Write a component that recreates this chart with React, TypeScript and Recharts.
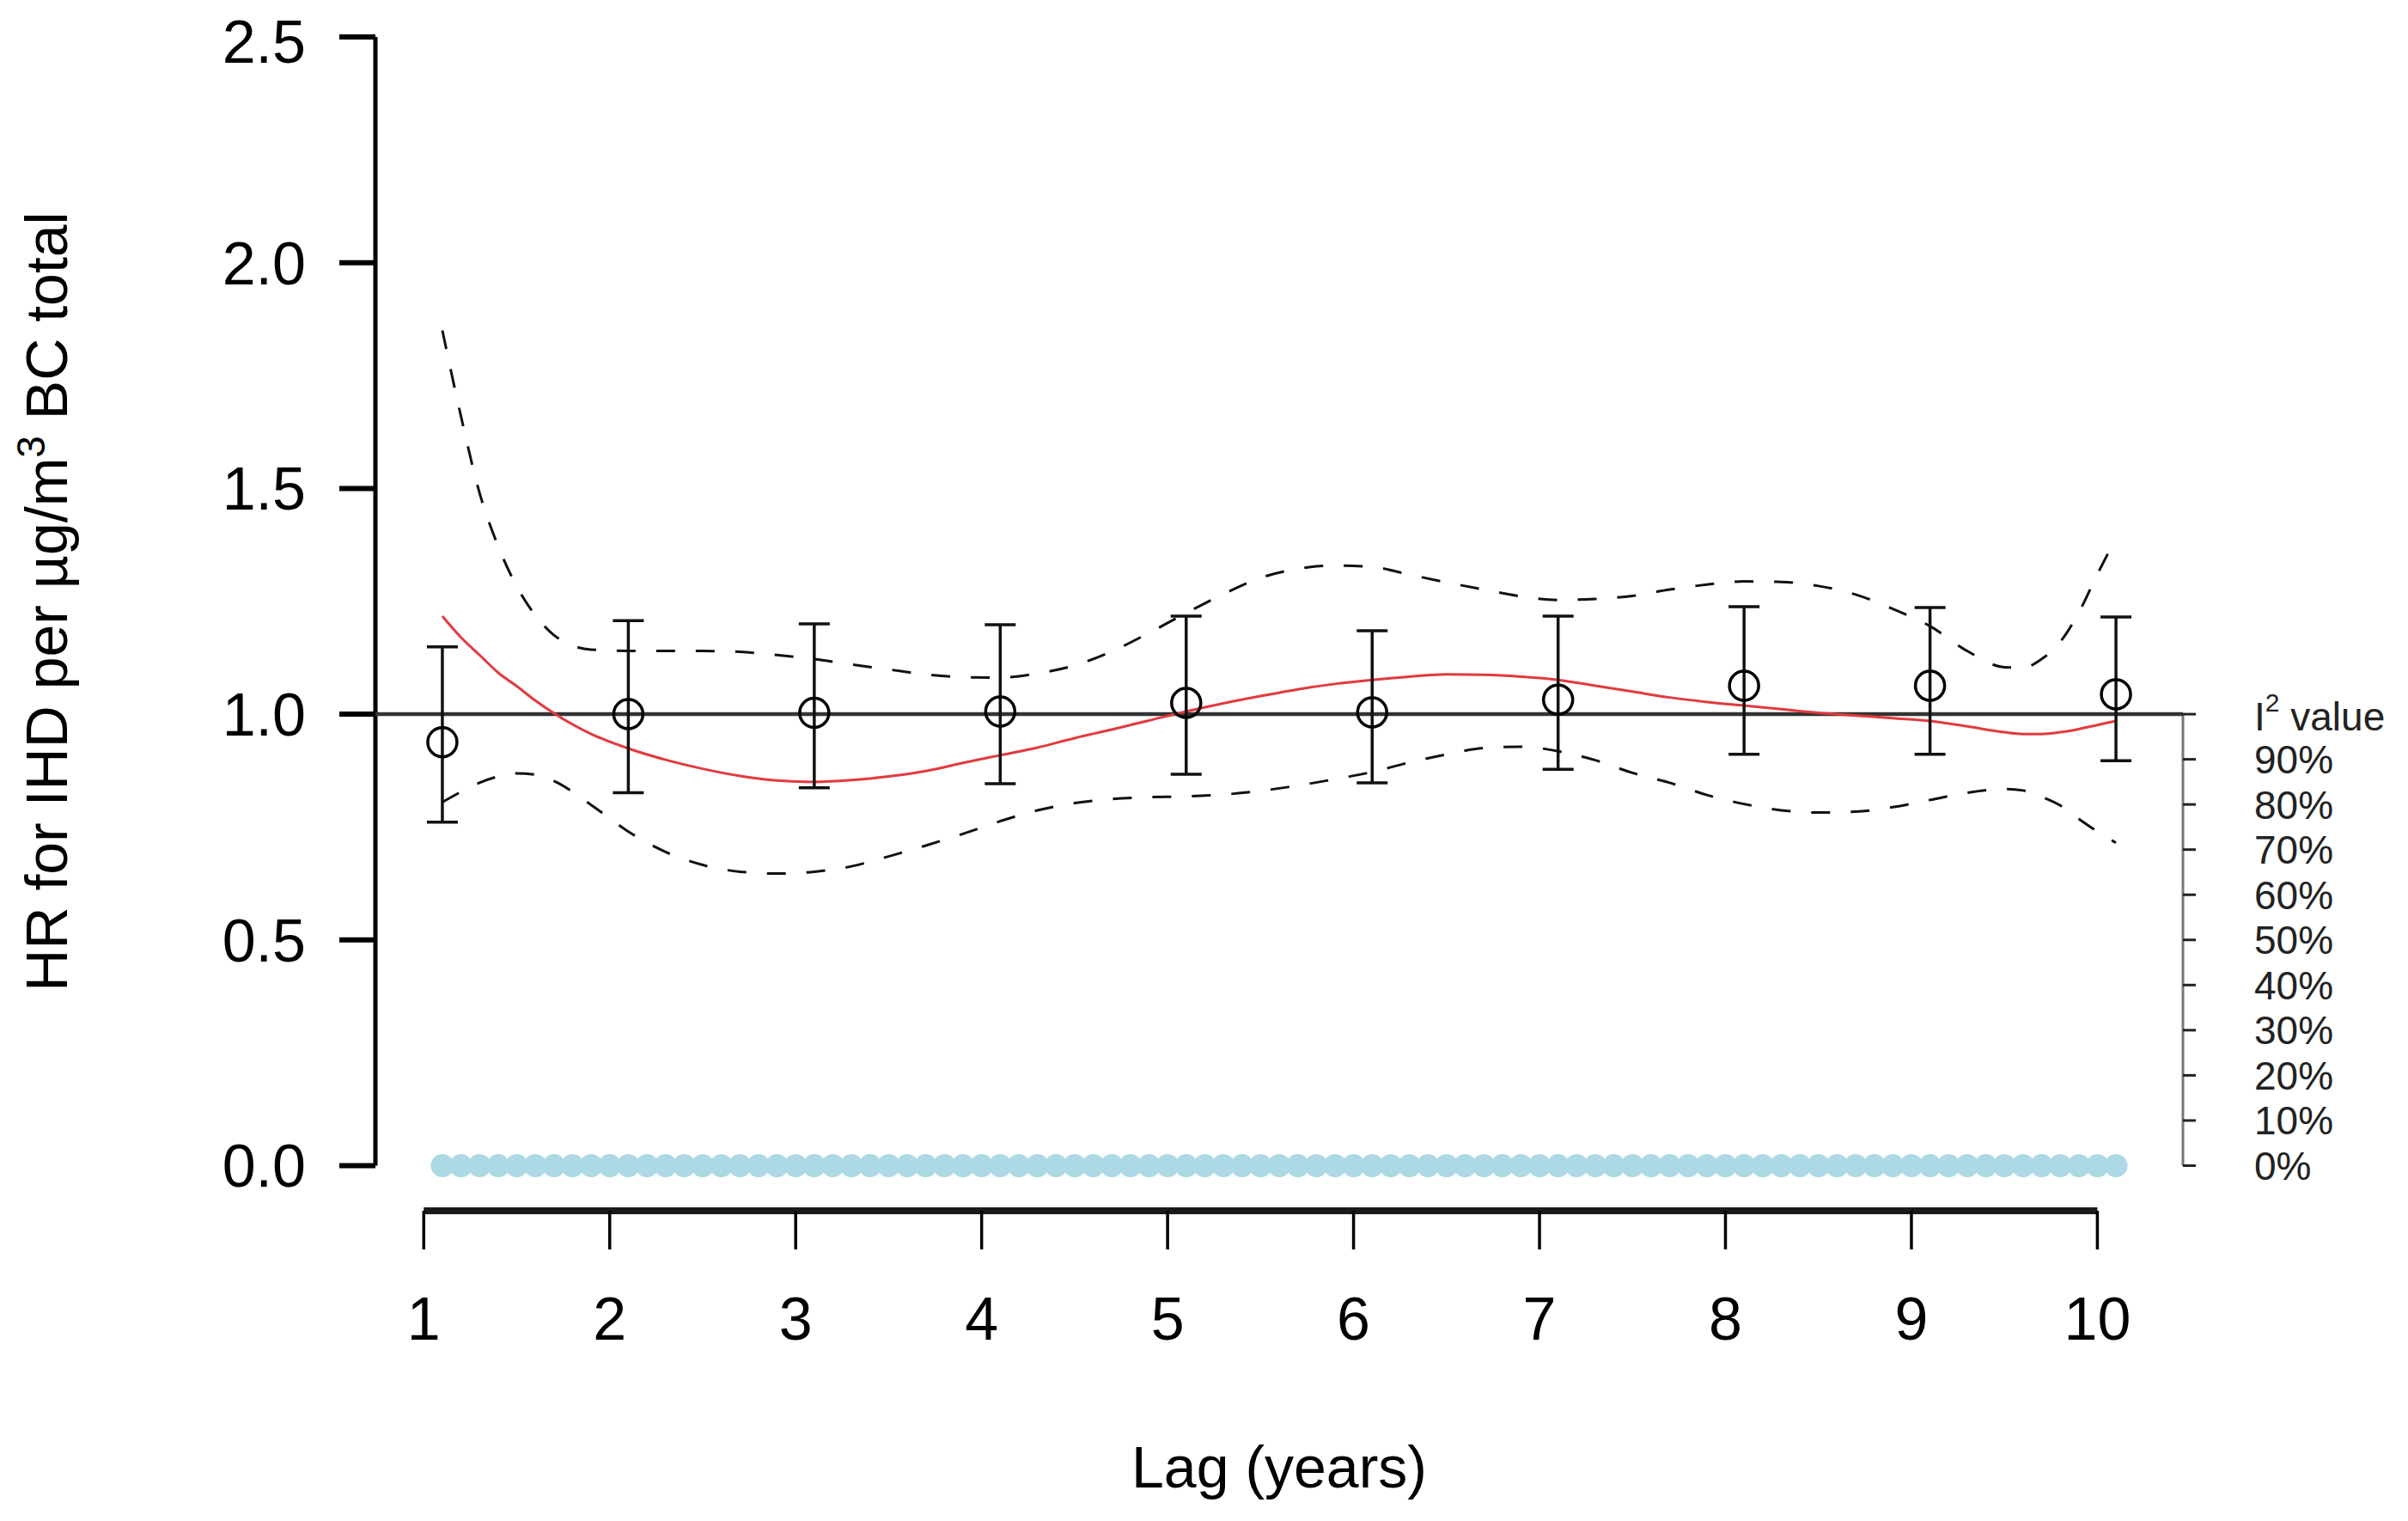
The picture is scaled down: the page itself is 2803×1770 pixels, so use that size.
import React from 'react';
import { ComposedChart, Line, Scatter, ErrorBar, XAxis, YAxis, ReferenceLine } from 'recharts';

// point estimates per lag (pooled HR with 95% CI)
const pointLags = [1.1, 2.1, 3.1, 4.1, 5.1, 6.1, 7.1, 8.1, 9.1, 10.1];
const hrEstimate = [0.938, 1.0, 1.003, 1.006, 1.025, 1.004, 1.032, 1.063, 1.063, 1.044];
const hrLower = [0.761, 0.826, 0.837, 0.846, 0.867, 0.848, 0.878, 0.911, 0.911, 0.897];
const hrUpper = [1.149, 1.207, 1.2, 1.198, 1.217, 1.185, 1.217, 1.238, 1.236, 1.215];

// smooth fit and its confidence band
const curveLags = [
  1.1, 1.2, 1.3, 1.4, 1.5, 1.6, 1.7, 1.9, 2.1, 2.3, 2.5, 2.7, 2.9, 3.1, 3.3, 3.5, 3.7, 3.9,
  4.1, 4.3, 4.5, 4.7, 4.9, 5.1, 5.3, 5.5, 5.7, 5.9, 6.1, 6.3, 6.5, 6.7, 6.9, 7.1, 7.3, 7.5,
  7.7, 7.9, 8.1, 8.3, 8.5, 8.7, 8.9, 9.1, 9.3, 9.5, 9.6, 9.7, 9.8, 9.9, 10.0, 10.1,
];
const fitCurve = [
  1.217, 1.17, 1.131, 1.092, 1.062, 1.03, 1.002, 0.956, 0.924, 0.899, 0.879, 0.863, 0.853, 0.85, 0.854, 0.862, 0.874, 0.892,
  0.909, 0.926, 0.947, 0.966, 0.986, 1.006, 1.024, 1.04, 1.055, 1.067, 1.076, 1.083, 1.088, 1.087, 1.083, 1.076, 1.063, 1.05,
  1.037, 1.027, 1.019, 1.011, 1.003, 0.997, 0.991, 0.985, 0.973, 0.96, 0.956, 0.956, 0.96, 0.967, 0.976, 0.985,
];
const upperCurve = [
  1.85, 1.66, 1.49, 1.372, 1.283, 1.219, 1.175, 1.143, 1.14, 1.14, 1.14, 1.138, 1.131, 1.122, 1.11, 1.099, 1.088, 1.082,
  1.081, 1.09, 1.108, 1.139, 1.18, 1.224, 1.266, 1.302, 1.322, 1.329, 1.326, 1.309, 1.292, 1.276, 1.261, 1.253, 1.255, 1.262,
  1.276, 1.287, 1.294, 1.293, 1.284, 1.265, 1.233, 1.195, 1.14, 1.104, 1.103, 1.122, 1.16, 1.225, 1.31, 1.39,
];
const lowerCurve = [
  0.805, 0.828, 0.848, 0.862, 0.869, 0.866, 0.852, 0.799, 0.74, 0.695, 0.666, 0.651, 0.647, 0.651, 0.663, 0.685, 0.709, 0.735,
  0.763, 0.787, 0.803, 0.812, 0.816, 0.818, 0.822, 0.83, 0.842, 0.856, 0.872, 0.893, 0.911, 0.925, 0.928, 0.918, 0.898, 0.87,
  0.848, 0.821, 0.801, 0.787, 0.782, 0.784, 0.794, 0.81, 0.826, 0.834, 0.831, 0.817, 0.798, 0.768, 0.74, 0.715,
];

// heterogeneity (I^2, %) along the lag grid
const i2Lags = [
  1.1, 1.2, 1.3, 1.4, 1.5, 1.6, 1.7, 1.8, 1.9, 2.0,
  2.1, 2.2, 2.3, 2.4, 2.5, 2.6, 2.7, 2.8, 2.9, 3.0,
  3.1, 3.2, 3.3, 3.4, 3.5, 3.6, 3.7, 3.8, 3.9, 4.0,
  4.1, 4.2, 4.3, 4.4, 4.5, 4.6, 4.7, 4.8, 4.9, 5.0,
  5.1, 5.2, 5.3, 5.4, 5.5, 5.6, 5.7, 5.8, 5.9, 6.0,
  6.1, 6.2, 6.3, 6.4, 6.5, 6.6, 6.7, 6.8, 6.9, 7.0,
  7.1, 7.2, 7.3, 7.4, 7.5, 7.6, 7.7, 7.8, 7.9, 8.0,
  8.1, 8.2, 8.3, 8.4, 8.5, 8.6, 8.7, 8.8, 8.9, 9.0,
  9.1, 9.2, 9.3, 9.4, 9.5, 9.6, 9.7, 9.8, 9.9, 10.0,
  10.1,
];
const i2Values = [
  0, 0, 0, 0, 0, 0, 0, 0, 0, 0,
  0, 0, 0, 0, 0, 0, 0, 0, 0, 0,
  0, 0, 0, 0, 0, 0, 0, 0, 0, 0,
  0, 0, 0, 0, 0, 0, 0, 0, 0, 0,
  0, 0, 0, 0, 0, 0, 0, 0, 0, 0,
  0, 0, 0, 0, 0, 0, 0, 0, 0, 0,
  0, 0, 0, 0, 0, 0, 0, 0, 0, 0,
  0, 0, 0, 0, 0, 0, 0, 0, 0, 0,
  0, 0, 0, 0, 0, 0, 0, 0, 0, 0,
  0,
];

const xTicks = [1, 2, 3, 4, 5, 6, 7, 8, 9, 10];
const hrTicks = [0, 0.5, 1, 1.5, 2, 2.5];
const i2Ticks = [0, 10, 20, 30, 40, 50, 60, 70, 80, 90, 100];

const X_DOMAIN: [number, number] = [0.74, 10.46];
const HR_DOMAIN: [number, number] = [-0.1, 2.5];
const I2_DOMAIN: [number, number] = [-10, 250];

const FONT = '"Liberation Sans", Arial, Helvetica, sans-serif';

const pointData = pointLags.map((lag, i) => ({
  lag,
  est: hrEstimate[i],
  err: [hrEstimate[i] - hrLower[i], hrUpper[i] - hrEstimate[i]],
}));

const curveData = curveLags.map((lag, i) => ({
  lag,
  fit: fitCurve[i],
  upper: upperCurve[i],
  lower: lowerCurve[i],
}));

const i2Data = i2Lags.map((lag, i) => ({ lag, i2: i2Values[i] }));

const OpenCircle = (props: any) => {
  const { cx, cy } = props;
  if (cx == null || cy == null) return null;
  return <circle cx={cx} cy={cy} r={17} fill="none" stroke="#000" strokeWidth={3.5} />;
};

const I2Dot = (props: any) => {
  const { cx, cy } = props;
  if (cx == null || cy == null) return null;
  return <circle cx={cx} cy={cy} r={13.5} fill="#add8e6" />;
};

const I2Tick = (props: any) => {
  const { x, y, payload } = props;
  if (payload.value === 100) {
    return (
      <text x={x} y={y + 19} fill="#222" fontSize={46} fontFamily={FONT}>
        I
        <tspan dy={-22} fontSize={30}>2</tspan>
        <tspan dy={22}> value</tspan>
      </text>
    );
  }
  return (
    <text x={x} y={y} dy="0.36em" fill="#222" fontSize={46} fontFamily={FONT}>
      {payload.value}%
    </text>
  );
};

export default function App() {
  return (
    <div style={{ width: 2787, height: 1754, background: '#fff' }}>
      <ComposedChart
        width={2787}
        height={1754}
        margin={{ top: 35, right: 54, bottom: 103, left: 29 }}
      >
        <XAxis
          type="number"
          dataKey="lag"
          domain={X_DOMAIN}
          ticks={xTicks}
          height={250}
          axisLine={false}
          tickLine={{ stroke: '#000', strokeWidth: 3.5 }}
          tickSize={45}
          tickMargin={55}
          tick={{ fill: '#000', fontSize: 70, fontFamily: FONT }}
          label={{
            content: (p: any) => {
              const vb = p.viewBox || {};
              return (
                <text
                  x={vb.x + vb.width / 2}
                  y={1699}
                  dy="0.36em"
                  textAnchor="middle"
                  fill="#000"
                  fontSize={68}
                  fontFamily={FONT}
                >
                  Lag (years)
                </text>
              );
            },
          }}
        />
        <YAxis
          yAxisId="hr"
          type="number"
          domain={HR_DOMAIN}
          ticks={hrTicks}
          width={400}
          axisLine={false}
          tickLine={{ stroke: '#000', strokeWidth: 6 }}
          tickSize={42}
          tickMargin={39}
          tickFormatter={(v: number) => v.toFixed(1)}
          tick={{ fill: '#000', fontSize: 70, fontFamily: FONT }}
          label={{
            content: () => (
              <text
                x={44}
                y={718}
                transform="rotate(-90, 44, 692)"
                textAnchor="middle"
                fill="#000"
                fontSize={68}
                fontFamily={FONT}
              >
                HR for IHD per µg/m
                <tspan dy={-26} fontSize={46}>3</tspan>
                <tspan dy={26}> BC total</tspan>
              </text>
            ),
          }}
        />
        <YAxis
          yAxisId="i2"
          orientation="right"
          type="number"
          domain={I2_DOMAIN}
          ticks={i2Ticks}
          width={200}
          axisLine={false}
          tickLine={{ stroke: '#222', strokeWidth: 3 }}
          tickSize={15}
          tickMargin={68}
          tick={<I2Tick />}
        />

        {/* axis lines drawn over the data range, R style */}
        <ReferenceLine
          yAxisId="hr"
          segment={[{ x: X_DOMAIN[0], y: 0 }, { x: X_DOMAIN[0], y: 2.5 }]}
          stroke="#000"
          strokeWidth={5}
        />
        <ReferenceLine
          yAxisId="hr"
          segment={[{ x: 1, y: HR_DOMAIN[0] }, { x: 10, y: HR_DOMAIN[0] }]}
          stroke="#1a1a1a"
          strokeWidth={8}
        />
        <ReferenceLine
          yAxisId="hr"
          segment={[{ x: X_DOMAIN[1], y: 0 }, { x: X_DOMAIN[1], y: 1 }]}
          stroke="#777"
          strokeWidth={3}
        />

        <Scatter
          yAxisId="i2"
          data={i2Data}
          dataKey="i2"
          shape={<I2Dot />}
          isAnimationActive={false}
        />

        <ReferenceLine yAxisId="hr" y={1} stroke="#333" strokeWidth={4.5} />

        <Line
          yAxisId="hr"
          data={curveData}
          dataKey="upper"
          type="monotone"
          stroke="#111"
          strokeWidth={3}
          strokeDasharray="22 24"
          dot={false}
          isAnimationActive={false}
        />
        <Line
          yAxisId="hr"
          data={curveData}
          dataKey="lower"
          type="monotone"
          stroke="#111"
          strokeWidth={3}
          strokeDasharray="22 24"
          dot={false}
          isAnimationActive={false}
        />
        <Line
          yAxisId="hr"
          data={curveData}
          dataKey="fit"
          type="monotone"
          stroke="#e23a3e"
          strokeWidth={3}
          dot={false}
          isAnimationActive={false}
        />

        <Scatter
          yAxisId="hr"
          data={pointData}
          dataKey="est"
          shape={<OpenCircle />}
          isAnimationActive={false}
        >
          <ErrorBar
            dataKey="err"
            direction="y"
            width={18}
            stroke="#111"
            strokeWidth={3.5}
            isAnimationActive={false}
          />
        </Scatter>
      </ComposedChart>
    </div>
  );
}
